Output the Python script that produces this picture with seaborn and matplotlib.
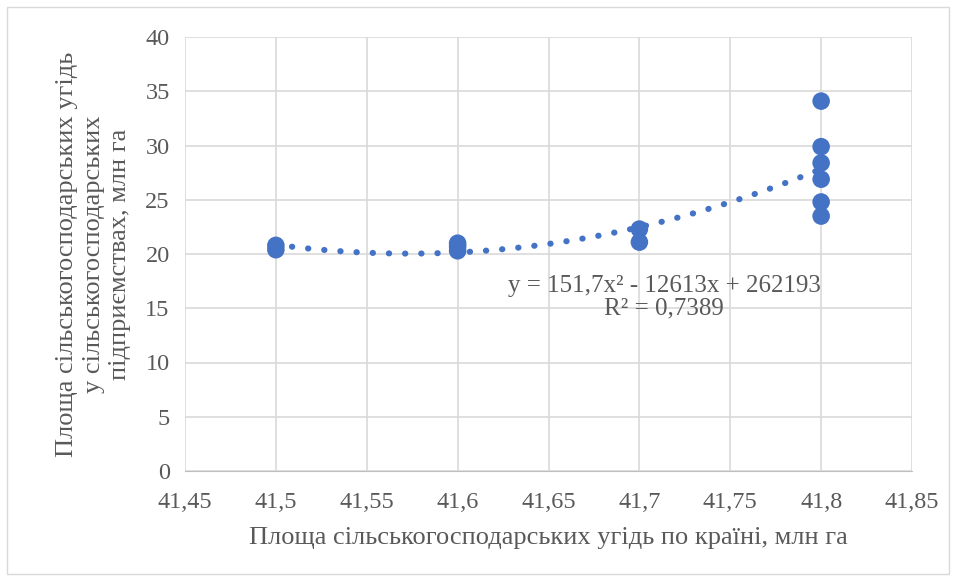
import numpy as np
import pandas as pd
import seaborn as sns
import matplotlib.pyplot as plt

# values
x_vals = [41.5, 41.5, 41.6, 41.6, 41.6, 41.7, 41.7, 41.8, 41.8, 41.8, 41.8, 41.8, 41.8]
y_vals = [20.4, 20.8, 20.3, 20.7, 21.0, 22.3, 21.1, 34.1, 29.9, 28.4, 26.9, 24.8, 23.5]
x_ticks = [41.45, 41.5, 41.55, 41.6, 41.65, 41.7, 41.75, 41.8, 41.85]
y_ticks = [0, 5, 10, 15, 20, 25, 30, 35, 40]
eq_text = "y = 151,7x² - 12613x + 262193\nR² = 0,7389"

df = pd.DataFrame({"x": x_vals, "y": y_vals})

sns.set_style("white")
plt.rcParams["font.family"] = ["Liberation Serif", "DejaVu Serif"]

blue = "#4472C4"
grey_txt = "#595959"
fig = plt.figure(figsize=(9.56, 5.8), dpi=100)
ax = fig.add_axes([0.1935, 0.188, 0.7605, 0.748])

# trendline (2nd order polynomial)
coef = np.polyfit(df["x"], df["y"], 2)
xs = np.linspace(41.5, 41.8, 200)
ax.plot(xs, np.polyval(coef, xs), color=blue, lw=4.4,
        linestyle=(0, (0.05, 2.6)), dash_capstyle="round", zorder=2)

sns.scatterplot(data=df, x="x", y="y", ax=ax, color=blue, s=160,
                edgecolor="none", zorder=3)

ax.set_xlim(41.45, 41.85)
ax.set_ylim(0, 40)
ax.set_xticks(x_ticks)
ax.set_yticks(y_ticks)
ax.set_xticklabels([f"{t:g}".replace(".", ",") for t in x_ticks])
ax.set_yticklabels([str(t) for t in y_ticks])
ax.grid(True, color="#d9d9d9", lw=1.2)
ax.set_axisbelow(True)
for side in ["top", "right", "left"]:
    ax.spines[side].set_visible(False)
ax.spines["bottom"].set_color("#bfbfbf")
ax.tick_params(axis="both", length=0, labelsize=17.5, labelcolor=grey_txt)
ax.tick_params(axis="x", pad=15)
ax.tick_params(axis="y", pad=11)

ax.set_xlabel("Площа сільськогосподарських угідь по країні, млн га",
              fontsize=19, color=grey_txt, labelpad=10)
ax.set_ylabel("Площа сільськогосподарських угідь\nу сільськогосподарських\nпідприємствах, млн га",
              fontsize=19, color=grey_txt, labelpad=10, linespacing=1.28)

ax.text(41.7136, 16.0, eq_text, ha="center", va="center", fontsize=18,
        color=grey_txt, linespacing=1.0)

fig.patches.append(plt.Rectangle((0.007, 0.01), 0.986, 0.978, transform=fig.transFigure,
                                 fill=False, edgecolor="#d9d9d9", lw=1))

fig.savefig("out.png", dpi=100)
